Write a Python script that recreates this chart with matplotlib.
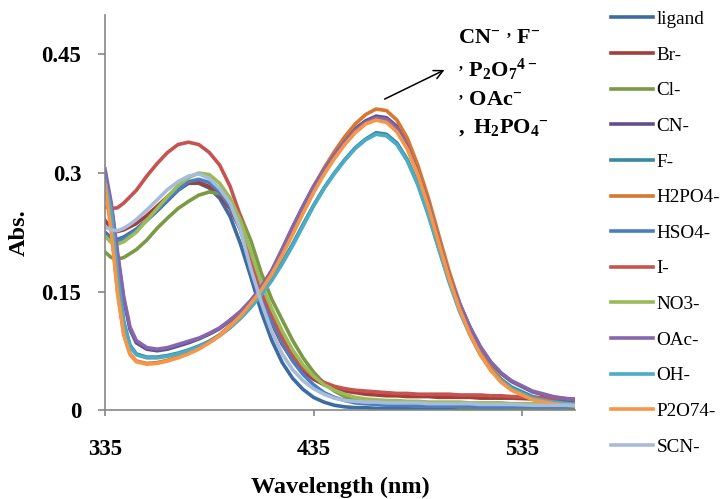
import matplotlib
matplotlib.use("Agg")
import matplotlib.pyplot as plt

# wavelength grid (nm)
wavelength = [335, 338, 341, 344, 347, 350, 355, 360, 365, 370,
              375, 380, 385, 390, 395, 400, 405, 410, 415, 420,
              425, 430, 435, 440, 445, 450, 455, 460, 465, 470,
              475, 480, 485, 490, 495, 500, 505, 510, 515, 520,
              525, 530, 540, 550, 560]

# absorbance
ligand = [.225, .218, .216, .219, .224, .229, .240, .252, .265, .278,
          .287, .287, .281, .268, .245, .210, .168, .124, .088, .060,
          .040, .026, .016, .010, .006, .004, .003, .003, .002, .002,
          .002, .002, .002, .002, .002, .002, .002, .001, .001, .001,
          .001, .001, .001, .001, .001]
br = [.240, .230, .226, .228, .232, .236, .246, .258, .270, .281,
      .287, .288, .283, .272, .255, .228, .188, .145, .110, .083,
      .063, .049, .039, .032, .027, .024, .022, .020, .019, .018,
      .018, .017, .017, .017, .016, .016, .016, .016, .015, .015,
      .015, .015, .014, .013, .012]
cl = [.200, .193, .191, .193, .198, .203, .215, .230, .243, .255,
      .264, .272, .276, .274, .264, .246, .214, .173, .140, .114,
      .088, .066, .048, .034, .024, .017, .013, .010, .008, .007,
      .006, .006, .005, .005, .005, .005, .004, .004, .004, .004,
      .004, .003, .003, .003, .003]
cn = [.300, .258, .196, .140, .102, .085, .077, .075, .077, .081,
      .085, .090, .096, .103, .113, .124, .138, .155, .176, .203,
      .231, .258, .283, .305, .325, .342, .356, .366, .372, .370,
      .359, .336, .302, .263, .216, .171, .135, .105, .080, .060,
      .046, .036, .023, .016, .012]
f = [.292, .252, .172, .112, .082, .071, .067, .067, .069, .072,
     .076, .081, .087, .095, .105, .117, .131, .147, .166, .187,
     .210, .235, .259, .281, .300, .317, .332, .343, .351, .349,
     .338, .317, .287, .249, .206, .164, .127, .097, .072, .053,
     .039, .029, .017, .011, .008]
h2po4 = [.285, .232, .150, .096, .071, .062, .059, .060, .063, .067,
         .072, .078, .086, .095, .107, .120, .136, .154, .175, .200,
         .227, .255, .282, .306, .327, .346, .362, .374, .381, .379,
         .367, .344, .310, .269, .222, .176, .136, .102, .075, .054,
         .038, .027, .014, .008, .005]
hso4 = [.222, .216, .214, .217, .222, .228, .240, .253, .267, .279,
        .289, .292, .288, .276, .258, .228, .185, .145, .112, .085,
        .062, .045, .032, .022, .016, .012, .009, .008, .007, .006,
        .006, .006, .005, .005, .005, .005, .005, .005, .004, .004,
        .004, .004, .004, .004, .004]
iodide = [.257, .255, .256, .262, .270, .278, .296, .312, .326, .336,
          .339, .336, .326, .310, .283, .245, .192, .150, .120, .092,
          .069, .053, .042, .035, .030, .027, .025, .024, .023, .022,
          .021, .021, .020, .020, .020, .020, .019, .019, .019, .018,
          .018, .017, .016, .015, .014]
no3 = [.220, .212, .210, .213, .219, .225, .240, .255, .270, .284,
       .294, .300, .298, .287, .268, .240, .200, .160, .128, .100,
       .076, .057, .043, .032, .025, .020, .016, .014, .013, .012,
       .012, .011, .011, .010, .010, .010, .010, .009, .009, .009,
       .009, .008, .008, .007, .007]
oac = [.305, .262, .200, .143, .105, .088, .079, .077, .079, .083,
       .087, .091, .097, .104, .114, .125, .139, .156, .177, .204,
       .232, .258, .282, .304, .323, .340, .354, .364, .370, .368,
       .357, .334, .300, .262, .215, .170, .135, .105, .080, .061,
       .047, .037, .024, .017, .013]
oh = [.290, .250, .170, .110, .080, .070, .066, .066, .068, .071,
      .075, .080, .086, .094, .104, .116, .130, .146, .164, .185,
      .208, .233, .258, .280, .299, .316, .331, .342, .349, .347,
      .336, .315, .285, .247, .204, .162, .125, .095, .070, .051,
      .037, .027, .015, .010, .007]
p2o7 = [.285, .225, .148, .095, .070, .061, .058, .059, .062, .066,
        .071, .077, .085, .094, .106, .119, .135, .152, .172, .196,
        .222, .249, .275, .298, .318, .336, .351, .362, .367, .364,
        .352, .330, .298, .258, .212, .167, .128, .096, .070, .050,
        .035, .025, .013, .008, .005]
scn = [.232, .228, .227, .230, .235, .241, .253, .266, .279, .289,
       .296, .299, .293, .280, .262, .228, .178, .136, .099, .071,
       .051, .037, .027, .020, .015, .012, .011, .010, .010, .009,
       .009, .009, .009, .008, .008, .008, .008, .008, .007, .007,
       .007, .007, .006, .006, .006]

series = [ligand, br, cl, cn, f, h2po4, hso4, iodide, no3, oac, oh, p2o7, scn]
labels = ["ligand", "Br-", "Cl-", "CN-", "F-", "H2PO4-", "HSO4-", "I-",
          "NO3-", "OAc-", "OH-", "P2O74-", "SCN-"]
colors = ["#3D6CA3", "#A33E3A", "#7A9A45", "#63508A", "#37899E", "#D9772F",
          "#4A7EC0", "#C65350", "#9BBB59", "#8767AB", "#4BACC6", "#F79646",
          "#A7BBDA"]

yticks = [0, 0.15, 0.3, 0.45]
ytick_labels = ["0", "0.15", "0.3", "0.45"]
xticks = [335, 435, 535]

plt.rcParams["font.family"] = ["Liberation Serif", "DejaVu Serif"]
plt.rcParams["mathtext.fontset"] = "custom"
plt.rcParams["mathtext.rm"] = "Liberation Serif:bold"
plt.rcParams["mathtext.bf"] = "Liberation Serif:bold"
plt.rcParams["mathtext.it"] = "Liberation Serif:bold"

fig = plt.figure(figsize=(7.25, 4.99), dpi=100)
ax = fig.add_axes([105 / 725, 89 / 499, 470 / 725, 395 / 499])

# draw each spectrum
for values, label, color in zip(series, labels, colors):
    ax.plot(wavelength, values, color=color, linewidth=2.6, label=label,
            solid_joinstyle="round")

ax.set_xlim(335, 560.4)
ax.set_ylim(0, 0.5)

# axis styling (grey excel-like axes)
for side in ["top", "right"]:
    ax.spines[side].set_visible(False)
for side in ["left", "bottom"]:
    ax.spines[side].set_color("#868686")
    ax.spines[side].set_linewidth(1.2)

ax.set_yticks(yticks)
ax.set_yticklabels(ytick_labels, fontsize=16.5, fontweight="bold")
ax.set_xticks(xticks)
ax.set_xticklabels([str(x) for x in xticks], fontsize=16.5, fontweight="bold")
ax.tick_params(axis="y", direction="out", length=5, width=1.2,
               color="#868686", pad=12)
ax.tick_params(axis="x", direction="out", length=4, width=1.2,
               color="#868686", pad=17)

ax.set_xlabel("Wavelength (nm)", fontsize=17.5, fontweight="bold")
ax.xaxis.set_label_coords(0.5, -0.17)
ax.set_ylabel("Abs.", fontsize=17.5, fontweight="bold")
ax.yaxis.set_label_coords(-0.16, 0.45)

# annotation for the anions that shift the band
ax.annotate("", xy=(499.0, 0.432), xytext=(467.9, 0.392),
            arrowprops=dict(arrowstyle="->", color="black", lw=1.1,
                            mutation_scale=16))
ann_lines = [
    r"$\mathrm{CN^{-}\ ^{,}\ F^{-}}$",
    r"$\mathrm{^{,}\ P_{2}O_{7}{}^{4-}}$",
    r"$\mathrm{^{,}\ OAc^{-}}$",
    r"$\mathrm{,\ H_{2}PO_{4}{}^{-}}$",
]
ann_y = [0.470, 0.430, 0.392, 0.357]
for txt, yy in zip(ann_lines, ann_y):
    ax.text(504.3, yy, txt, fontsize=16, va="center", ha="left")

# legend on the right
fig.legend(loc="upper left", bbox_to_anchor=(603 / 725, 1 - 3 / 499),
           frameon=False, fontsize=13.8, handlelength=2.2, handletextpad=0.2,
           labelspacing=0.95, borderaxespad=0)

fig.savefig("out.png", dpi=100)
